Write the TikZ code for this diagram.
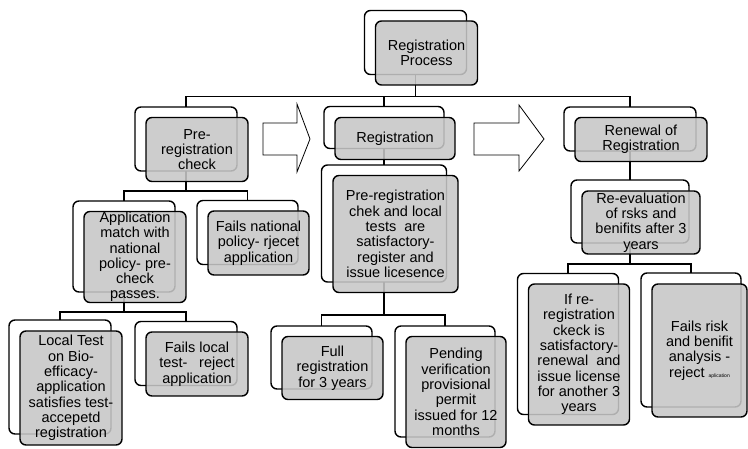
\documentclass[tikz,border=0pt]{standalone}
\usepackage{fontspec}
\setmainfont{Liberation Sans}

\begin{document}
\begin{tikzpicture}[x=1pt, y=-1pt,
    every node/.style={font=\fontsize{14.5}{15.3}\selectfont},
    backbox/.style={draw, line width=1.4pt, rounded corners=6pt, fill=white, inner sep=0pt, outer sep=0pt},
    frontbox/.style={draw, line width=1.4pt, rounded corners=6pt, fill=black!22, fill opacity=0.88,
                     text opacity=1, inner sep=0pt, outer sep=0pt, align=center},
    branch/.style={line width=1.3pt},
    blockarrow/.style={line width=0.8pt, fill=white, line join=miter}
  ]
  \useasboundingbox (0,0) rectangle (748,449);

  % Blockpfeile
  \draw[blockarrow] (263,123) -- (297,123) -- (297,104) -- (310,139) -- (297,172) -- (297,155) -- (263,155) -- cycle;
  \draw[blockarrow] (474,123) -- (519,123) -- (519,105) -- (544,139) -- (519,171) -- (519,155) -- (474,155) -- cycle;

  % hintere Kaesten
  \node[backbox, minimum width=102pt, minimum height=64pt]  (procB)      at (415.5,42.5) {};
  \node[backbox, minimum width=102pt, minimum height=64pt]  (preB)       at (186,139) {};
  \node[backbox, minimum width=120pt, minimum height=42pt]  (regB)       at (384,127.5) {};
  \node[backbox, minimum width=132pt, minimum height=44pt]  (renB)       at (630,129) {};
  \node[backbox, minimum width=102pt, minimum height=91pt]  (appB)       at (124,246.5) {};
  \node[backbox, minimum width=101pt, minimum height=64pt]  (failnatB)   at (247.5,232.5) {};
  \node[backbox, minimum width=102pt, minimum height=114pt] (localB)     at (60,377) {};
  \node[backbox, minimum width=102pt, minimum height=64pt]  (faillocalB) at (186,353.5) {};
  \node[backbox, minimum width=125pt, minimum height=117pt] (chekB)      at (384,223.5) {};
  \node[backbox, minimum width=101pt, minimum height=63pt]  (fullB)      at (321.5,357.5) {};
  \node[backbox, minimum width=100pt, minimum height=111pt] (pendB)      at (445,381.5) {};
  \node[backbox, minimum width=118pt, minimum height=63pt]  (reevalB)    at (630,211.5) {};
  \node[backbox, minimum width=101pt, minimum height=141pt] (ifreB)      at (568,344) {};
  \node[backbox, minimum width=100pt, minimum height=134pt] (failriskB)  at (691,340) {};

  % Verbindungen
  \draw[branch] (procB.south) -- ++(0,22) -| (preB.north);
  \draw[branch] (procB.south) -- ++(0,22) -| (regB.north);
  \draw[branch] (procB.south) -- ++(0,22) -| (renB.north);
  \draw[branch] (preB.south) -- ++(0,20) -| (appB.north);
  \draw[branch] (preB.south) -- ++(0,20) -| (failnatB.north);
  \draw[branch] (appB.south) -- ++(0,20) -| (localB.north);
  \draw[branch] (appB.south) -- ++(0,20) -| (faillocalB.north);
  \draw[branch] (regB.south) -- (chekB.north);
  \draw[branch] (chekB.south) -- ++(0,33) -| (fullB.north);
  \draw[branch] (chekB.south) -- ++(0,33) -| (pendB.north);
  \draw[branch] (renB.south) -- (reevalB.north);
  \draw[branch] (reevalB.south) -- ++(0,21) -| (ifreB.north);
  \draw[branch] (reevalB.south) -- ++(0,21) -| (failriskB.north);

  % vordere Kaesten mit Text
  \node[frontbox, minimum width=102pt, minimum height=64pt]  (proc)      at (426.5,53) {Registration\\Process};
  \node[frontbox, minimum width=102pt, minimum height=64pt]  (pre)       at (197,149.5) {Pre-\\registration\\check};
  \node[frontbox, minimum width=120pt, minimum height=42pt]  (reg)       at (395,138.5) {Registration};
  \node[frontbox, minimum width=132pt, minimum height=44pt]  (ren)       at (641,139.5) {Renewal of\\Registration};
  \node[frontbox, minimum width=102pt, minimum height=91pt]  (app)       at (135,257) {Application\\match with\\national\\policy- pre-\\check\\passes.};
  \node[frontbox, minimum width=101pt, minimum height=64pt]  (failnat)   at (258.5,243) {Fails national\\policy- rjecet\\application};
  \node[frontbox, minimum width=102pt, minimum height=114pt] (local)     at (71,388) {Local Test\\on Bio-\\efficacy-\\application\\satisfies test-\\accepetd\\registration};
  \node[frontbox, minimum width=102pt, minimum height=64pt]  (faillocal) at (197,364) {Fails local\\test-\hspace{0.8em}reject\\application};
  \node[frontbox, minimum width=125pt, minimum height=117pt] (chek)      at (395.5,234) {Pre-registration\\chek and local\\tests\ \ are\\satisfactory-\\register and\\issue licesence};
  \node[frontbox, minimum width=101pt, minimum height=63pt]  (full)      at (332.5,368) {Full\\registration\\for 3 years};
  \node[frontbox, minimum width=100pt, minimum height=111pt] (pend)      at (456,392) {Pending\\verification\\provisional\\permit\\issued for 12\\months};
  \node[frontbox, minimum width=118pt, minimum height=63pt]  (reeval)    at (641,222.5) {Re-evaluation\\of rsks and\\benifits after 3\\years};
  \node[frontbox, minimum width=101pt, minimum height=141pt] (ifre)      at (579,354.5) {If re-\\registration\\ckeck is\\satisfactory-\\renewal\ \ and\\issue license\\for another 3\\years};
  \node[frontbox, minimum width=95pt, minimum height=133pt]  (failrisk)  at (699.5,350.5) {Fails risk\\and benifit\\analysis -\\reject {\fontsize{5}{6}\selectfont aplication}};
\end{tikzpicture}
\end{document}
